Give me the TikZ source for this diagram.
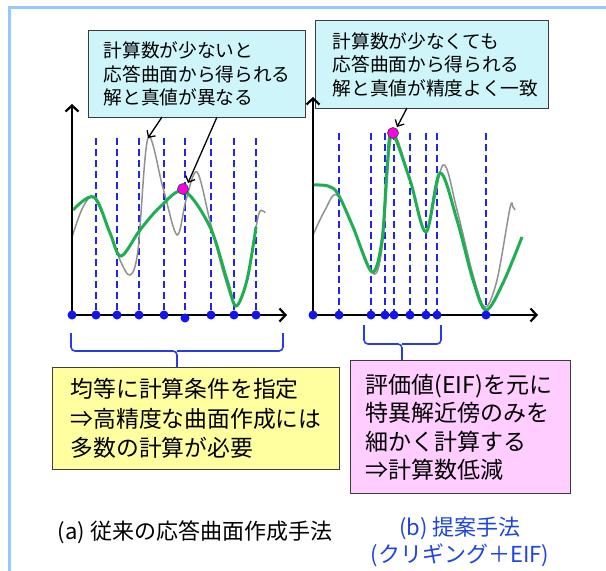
\documentclass[tikz,border=0pt]{standalone}
\usepackage{fontspec}
\setmainfont{Noto Sans CJK JP}
\usetikzlibrary{arrows.meta}
\definecolor{framec}{RGB}{150,200,255}
\definecolor{dashc}{RGB}{35,35,235}
\definecolor{dotc}{RGB}{20,20,240}
\definecolor{greenc}{RGB}{30,175,80}
\definecolor{grayc}{RGB}{145,145,145}
\definecolor{cyanfill}{RGB}{205,245,250}
\definecolor{yellowfill}{RGB}{255,255,160}
\definecolor{pinkfill}{RGB}{255,205,255}
\definecolor{borderc}{RGB}{60,60,60}
\definecolor{magc}{RGB}{255,0,230}
\definecolor{capblue}{RGB}{30,70,220}
\definecolor{bracec}{RGB}{40,60,230}
\begin{document}
\begin{tikzpicture}[x=1pt,y=-1pt,
  gridline/.style={dashc, line width=2.3pt, dash pattern=on 7pt off 4pt},
  sample/.style={dotc},
  truecurve/.style={grayc, line width=1.5pt},
  fitcurve/.style={greenc, line width=3pt},
  axisline/.style={black, line width=2.2pt, -{Straight Barb[length=6pt,width=13pt,line width=2.2pt]}},
  callarrow/.style={black, line width=1.3pt, -{Straight Barb[length=5pt,width=10pt,line width=1.3pt]}},
  calloutbox/.style={draw=borderc, fill=cyanfill, line width=1.3pt, align=left, inner ysep=0pt,
    font=\fontsize{18.7}{23.5}\selectfont},
  notebox/.style={draw=borderc, line width=1.3pt, align=left, inner ysep=0pt},
  bracket/.style={bracec, line width=1.6pt, rounded corners=4pt},
  hitdot/.style={draw=black!70, fill=magc, line width=0.8pt}
]
\useasboundingbox (0,0) rectangle (606,571);
\fill[white] (0,0) rectangle (606,571);
% frame
\draw[framec, line width=3pt] (9,571) -- (9,7) -- (606,7);

% ===== left chart =====
\foreach \xx in {96,117,139,164,185,211,234,256}
  \draw[gridline] (\xx,138) -- (\xx,315);
\draw[truecurve] plot[smooth, tension=0.55] coordinates {
  (72,237) (83,207) (94,198) (110,232) (120,260) (130,275) (138,250) (148,138)
  (163,188) (177,235) (186,200) (197,172) (210,221) (224,275) (236,306) (247,280) (258,217) (263,211) (265,213)};
\draw[fitcurve] plot[smooth, tension=0.55] coordinates {
  (73,210) (94,197) (110,233) (121,256) (140,230) (160,207) (184,191) (210,227) (227,280) (236,306) (247,280) (256,227)};
\node[calloutbox, anchor=north west, minimum width=217pt, minimum height=87pt,
  inner xsep=15pt, text width=187pt] (lcall) at (88,30)
  {計算数が少ないと\\応答曲面から得られる\\解と真値が異なる};
\draw[axisline] (72,315) -- (72,104);
\draw[axisline] (72,315) -- (287,315);
\foreach \xx in {72,96,117,139,164,211,234,256}
  \fill[sample] (\xx,315) circle (4.5pt);
\fill[sample] (185,318) circle (4.5pt);
\draw[hitdot] (183,189) circle (5.5pt);
\coordinate (la1) at (162,117);
\coordinate (la1t) at (148,138);
\coordinate (la2) at (217,117);
\coordinate (la2t) at (188,183);
\draw[callarrow] (la1) -- (la1t);
\draw[callarrow] (la2) -- (la2t);

% ===== right chart =====
\foreach \xx in {339,371,385,394,410,426,437,486}
  \draw[gridline] (\xx,133) -- (\xx,315);
\draw[truecurve] plot[smooth, tension=0.55] coordinates {
  (313,235) (325,210) (337,195) (355,232) (374,274) (383,240) (392,135) (410,180) (426,232) (443,165)
  (457,210) (473,275) (485,307) (497,280) (510,208) (513,207) (515,210)};
\draw[fitcurve] plot[smooth, tension=0.55] coordinates {
  (313,185) (328,186) (338,194) (353,227) (372,272) (382,240) (387,170) (392,133) (410,180) (426,232)
  (440,173) (457,220) (473,280) (486,310) (503,283) (522,237)};
\node[calloutbox, anchor=north west, minimum width=233pt, minimum height=88pt,
  inner xsep=17pt, text width=199pt] (rcall) at (315,20)
  {計算数が少なくても\\応答曲面から得られる\\解と真値が精度よく一致};
\draw[axisline] (313,315) -- (313,97);
\draw[axisline] (313,315) -- (538,315);
\foreach \xx in {313,339,371,385,394,410,426,437,486}
  \fill[sample] (\xx,315) circle (4.5pt);
\draw[hitdot] (393,133) circle (5.5pt);
\coordinate (ra1) at (407,108);
\coordinate (ra1t) at (397,127);
\draw[callarrow] (ra1) -- (ra1t);

% ===== notes =====
\node[notebox, fill=yellowfill, anchor=north west, minimum width=287pt, minimum height=102pt,
  inner xsep=18pt, text width=251pt, font=\fontsize{22.8}{29.5}\selectfont] (ybox) at (52,367)
  {均等に計算条件を指定\\⇒高精度な曲面作成には\\多数の計算が必要};
\node[notebox, fill=pinkfill, anchor=north west, minimum width=220pt, minimum height=133pt,
  inner xsep=15pt, text width=190pt, font=\fontsize{23}{28.5}\selectfont] (pbox) at (350,360)
  {評価値(EIF)を元に\\特異解近傍のみを\\細かく計算する\\⇒計算数低減};

% braces
\coordinate (lbl) at (71,333);
\coordinate (lbr) at (283,333);
\coordinate (lbm) at (177,351);
\draw[bracket] (lbl) |- (lbm) -- (ybox.north -| lbm);
\draw[bracket] (lbr) |- (lbm);
\coordinate (rbl) at (364,325);
\coordinate (rbr) at (441,325);
\coordinate (rbm) at (402,344);
\draw[bracket] (rbl) |- (rbm) -- (pbox.north -| rbm);
\draw[bracket] (rbr) |- (rbm);

% captions
\node[font=\fontsize{22}{27}\selectfont, inner sep=0pt] (capA) at (195,532) {(a) 従来の応答曲面作成手法};
\node[font=\fontsize{22}{27}\selectfont, text=capblue, align=center, inner sep=0pt] (capB) at (460,541.5)
  {(b) 提案手法\\(クリギング＋EIF)};
\end{tikzpicture}
\end{document}
